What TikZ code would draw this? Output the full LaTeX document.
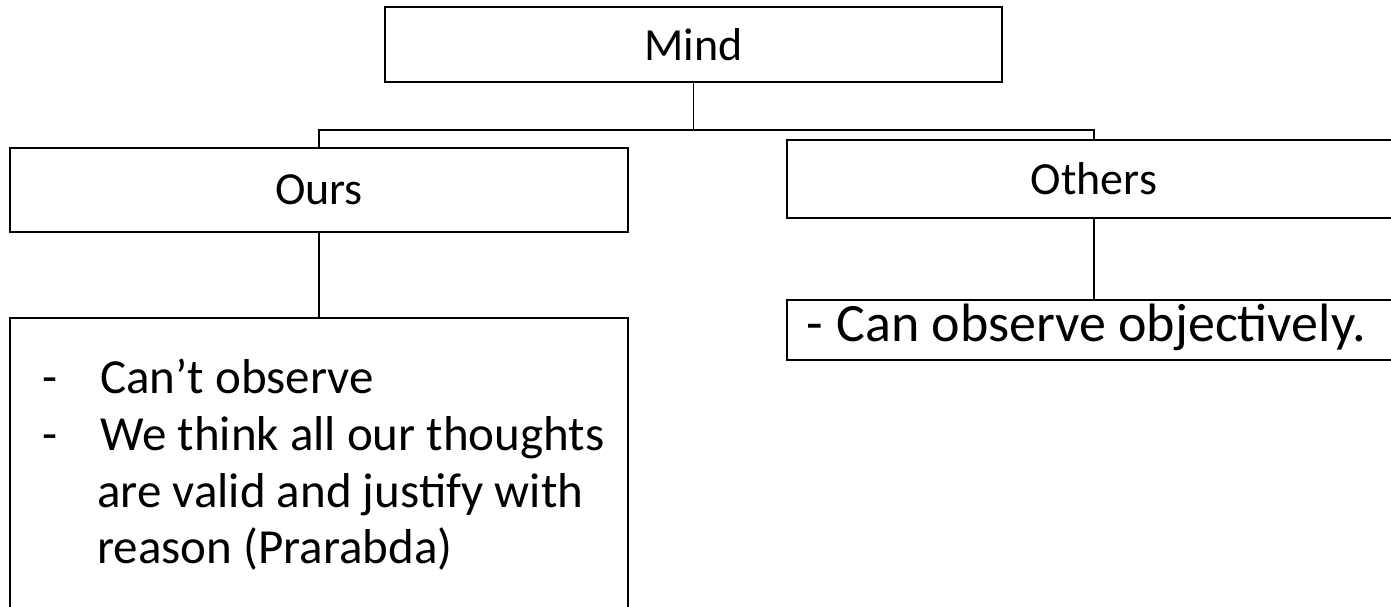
\documentclass[tikz,border=0pt]{standalone}
\usepackage{fontspec}
\setmainfont{Carlito}
\begin{document}
\begin{tikzpicture}[x=0.5pt,y=-0.5pt,
  box/.style={draw, line width=1pt, rectangle, inner sep=0, font=\fontsize{23}{27}\selectfont},
  item/.style={font=\fontsize{24.5}{29}\selectfont, inner sep=0, anchor=base west},
  itemb/.style={font=\fontsize{27}{31}\selectfont, inner sep=0, anchor=base west},
  conn/.style={line width=0.65pt}]
\useasboundingbox (0,0) rectangle (1391,606);
\clip (0,0) rectangle (1391,606);
\fill[white] (0,0) rectangle (1391,606);
% boxes
\node[box, minimum width=308.5pt, minimum height=37.5pt] (mind) at (693.5,44.5) {Mind};
\node[box, minimum width=309pt, minimum height=42pt] (ours) at (319,190) {Ours};
\node[box, minimum width=307pt, minimum height=39pt] (others) at (1094,179) {Others};
\node[box, minimum width=309pt, minimum height=161pt] (ourslist) at (319,479) {};
\node[box, minimum width=307pt, minimum height=30pt] (otherslist) at (1094,330) {};
% list texts
\node[item] (d1) at (42,393) {-};
\node[item] (t1) at (100,393) {Can’t observe};
\node[item] (d2) at (42,450) {-};
\node[item] (t2) at (100,450) {We think all our thoughts};
\node[item] (t3) at (97,507) {are valid and justify with};
\node[item] (t4) at (97,563) {reason (Prarabda)};
\node[itemb] (d3) at (806,341) {-};
\node[itemb] (t5) at (836,341) {Can observe objectively.};
% connectors
\coordinate (j) at (693.5,130);
\draw[conn] (mind.south) -- (j);
\draw[conn] (ours.north) |- (j) -| (others.north);
\draw[conn] (ours.south) -- (ourslist.north);
\draw[conn] (others.south) -- (otherslist.north);
\end{tikzpicture}
\end{document}
